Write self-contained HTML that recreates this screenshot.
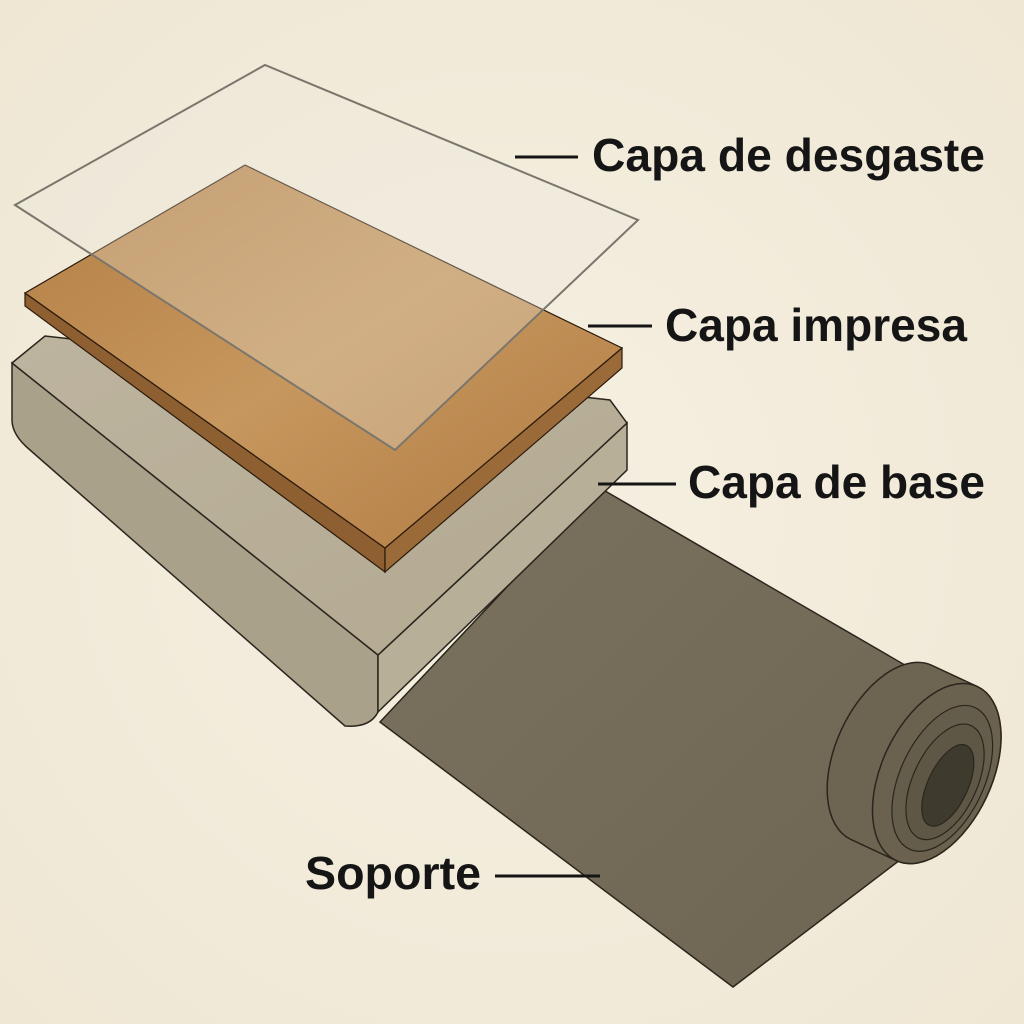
<!DOCTYPE html>
<html><head><meta charset="utf-8"><style>
html,body{margin:0;padding:0;background:#f3ecdc;}
svg{display:block}
text{font-family:"Liberation Sans",sans-serif;font-weight:bold;fill:#151515;font-size:46px}
</style></head><body>
<svg width="1024" height="1024" viewBox="0 0 1024 1024">
<defs>
<radialGradient id="bg" cx="0.5" cy="0.5" r="0.7"><stop offset="0" stop-color="#f6f0e2"/><stop offset="1" stop-color="#efe7d4"/></radialGradient>
<linearGradient id="wood" x1="0" y1="0" x2="1" y2="1"><stop offset="0" stop-color="#b47e45"/><stop offset="0.5" stop-color="#c6975e"/><stop offset="1" stop-color="#b07a42"/></linearGradient>
<linearGradient id="sheet" x1="0" y1="0" x2="1" y2="1"><stop offset="0" stop-color="#7a715e"/><stop offset="1" stop-color="#6e6653"/></linearGradient>
<linearGradient id="btop" x1="0" y1="0" x2="1" y2="1"><stop offset="0" stop-color="#bdb49f"/><stop offset="1" stop-color="#b3a991"/></linearGradient>
</defs>
<rect width="1024" height="1024" fill="url(#bg)"/>
<!-- underlay sheet -->
<path d="M600,488 L910,668 L900,860 L733,987 L380,722 Z" fill="url(#sheet)" stroke="#2a261d" stroke-width="1.5"/>
<!-- roll -->
<g transform="rotate(25 910 760)">
<path d="M890,665 L940,665 A55,96 0 0 1 940,857 L890,857 A55,96 0 0 1 890,665 Z" fill="#6d6552" stroke="#2a261d" stroke-width="1.5"/>
<ellipse cx="940" cy="761" rx="55" ry="96" fill="#6a624f" stroke="#2a261d" stroke-width="1.5"/>
<ellipse cx="947" cy="763" rx="42" ry="78" fill="#655d4b" stroke="#2a261d" stroke-width="1.2"/>
<ellipse cx="951" cy="765" rx="32" ry="62" fill="#5f5746" stroke="#2a261d" stroke-width="1.2"/>
<ellipse cx="955" cy="767" rx="20" ry="44" fill="#3f3a2e" stroke="#2a261d" stroke-width="1.2"/>
</g>
<!-- base block -->
<path d="M12,363 L378,655 L378,712 Q370,728 345,726 L30,450 Q12,435 12,420 Z" fill="#aaa18b" stroke="#2a261d" stroke-width="1.5"/>
<path d="M378,655 L627,423 L627,470 L378,712 Z" fill="#b8af99" stroke="#2a261d" stroke-width="1.5"/>
<path d="M12,363 L45,336 L610,400 L627,423 L378,655 Z" fill="url(#btop)" stroke="#2a261d" stroke-width="1.5"/>
<!-- wood -->
<path d="M25,293 L385,548 L385,572 L25,306 Z" fill="#8e5f30" stroke="#2a1a0c" stroke-width="1.2"/>
<path d="M385,548 L622,348 L622,368 L385,572 Z" fill="#9a6a38" stroke="#2a1a0c" stroke-width="1.2"/>
<path d="M25,293 L245,165 L622,348 L385,548 Z" fill="url(#wood)" stroke="#2a1a0c" stroke-width="1.2"/>
<!-- glass -->
<path d="M15,205 L265,65 L638,220 L395,450 Z" fill="#ece8de" fill-opacity="0.3" stroke="#7b766c" stroke-width="2"/>
<!-- labels -->
<line x1="515" y1="157" x2="578" y2="157" stroke="#151515" stroke-width="3"/>
<text x="592" y="171" textLength="393" lengthAdjust="spacingAndGlyphs">Capa de desgaste</text>
<line x1="588" y1="326" x2="652" y2="326" stroke="#151515" stroke-width="3"/>
<text x="665" y="341" textLength="302" lengthAdjust="spacingAndGlyphs">Capa impresa</text>
<line x1="598" y1="484" x2="676" y2="484" stroke="#151515" stroke-width="3"/>
<text x="688" y="498" textLength="297" lengthAdjust="spacingAndGlyphs">Capa de base</text>
<line x1="495" y1="876" x2="600" y2="876" stroke="#151515" stroke-width="3"/>
<text x="305" y="889" textLength="176" lengthAdjust="spacingAndGlyphs">Soporte</text>
</svg>
</body></html>
